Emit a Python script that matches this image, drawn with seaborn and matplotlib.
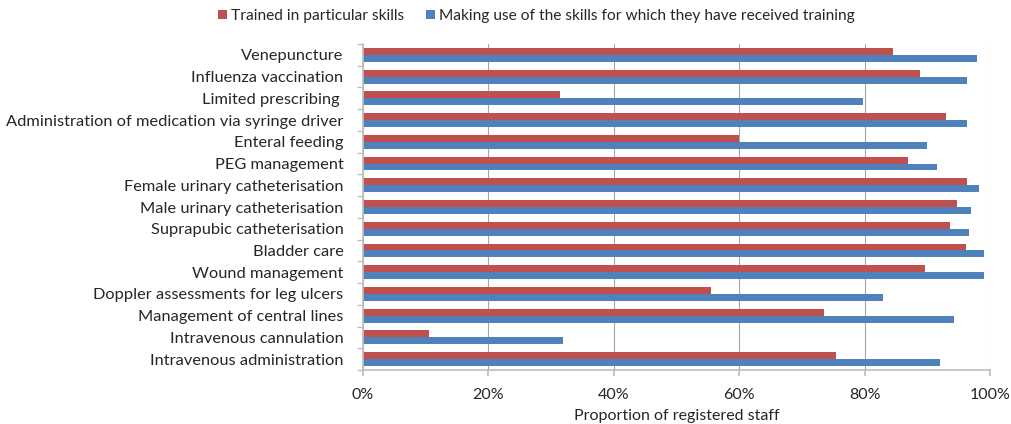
import matplotlib
matplotlib.use("Agg")
import matplotlib.pyplot as plt
import seaborn as sns
import pandas as pd
import numpy as np
from matplotlib.ticker import PercentFormatter, FixedLocator

categories = [
    "Venepuncture",
    "Influenza vaccination",
    "Limited prescribing ",
    "Administration of medication via syringe driver",
    "Enteral feeding",
    "PEG management",
    "Female urinary catheterisation",
    "Male urinary catheterisation",
    "Suprapubic catheterisation",
    "Bladder care",
    "Wound management",
    "Doppler assessments for leg ulcers",
    "Management of central lines",
    "Intravenous cannulation",
    "Intravenous administration",
]
trained = [84.6, 88.8, 31.4, 93.0, 59.9, 86.9, 96.4, 94.8, 93.7, 96.1, 89.7, 55.5, 73.6, 10.5, 75.4]
using = [98.0, 96.3, 79.7, 96.4, 90.0, 91.5, 98.2, 96.9, 96.7, 99.1, 99.0, 83.0, 94.2, 31.9, 92.0]
series_names = ["Trained in particular skills",
                "Making use of the skills for which they have received training"]
x_ticks = [0, 20, 40, 60, 80, 100]
x_label = "Proportion of registered staff"

df = pd.DataFrame({
    "Skill": categories * 2,
    "Value": trained + using,
    "Series": [series_names[0]] * len(categories) + [series_names[1]] * len(categories),
})

sns.set_theme(style="white")
plt.rcParams["font.family"] = ["Lato", "DejaVu Sans"]

fig = plt.figure(figsize=(10.11, 4.24), dpi=100)
ax = fig.add_axes([363 / 1011, (424 - 370) / 424, (990 - 363) / 1011, (370 - 44) / 424])

sns.barplot(data=df, y="Skill", x="Value", hue="Series", hue_order=series_names,
            order=categories, palette=["#C0504D", "#4F81BD"], orient="h",
            width=0.64, saturation=1, linewidth=0, ax=ax, errorbar=None, legend=True)

ax.set_xlim(0, 100)
ax.set_xticks(x_ticks)
ax.xaxis.set_major_formatter(PercentFormatter(decimals=0))
ax.grid(axis="x", color="#A6A6A6", linewidth=0.8)
ax.set_axisbelow(True)
for s in ["top", "right"]:
    ax.spines[s].set_visible(False)
ax.spines["left"].set_color("#BFBFBF")
ax.spines["bottom"].set_color("#BFBFBF")
ax.yaxis.set_minor_locator(FixedLocator(np.arange(-0.5, len(categories), 1.0)))
ax.tick_params(axis="y", which="major", length=0, labelsize=11.8, pad=14)
ax.tick_params(axis="y", which="minor", length=4, color="#BFBFBF", left=True)
ax.tick_params(axis="x", length=4, color="#BFBFBF", bottom=True, labelsize=11.5, pad=9)
ax.set_ylabel("")
ax.set_xlabel(x_label, fontsize=11.5, labelpad=5)
for lbl in ax.get_yticklabels() + ax.get_xticklabels():
    lbl.set_color("#262626")
ax.xaxis.label.set_color("#262626")

leg = ax.legend(loc="lower center", bbox_to_anchor=(0.277, 1.045), ncol=2, frameon=False,
                fontsize=11.2, handlelength=0.55, handleheight=0.55, handletextpad=0.3,
                columnspacing=1.4, borderaxespad=0)
for t in leg.get_texts():
    t.set_color("#262626")

fig.savefig("out.png", dpi=100)
